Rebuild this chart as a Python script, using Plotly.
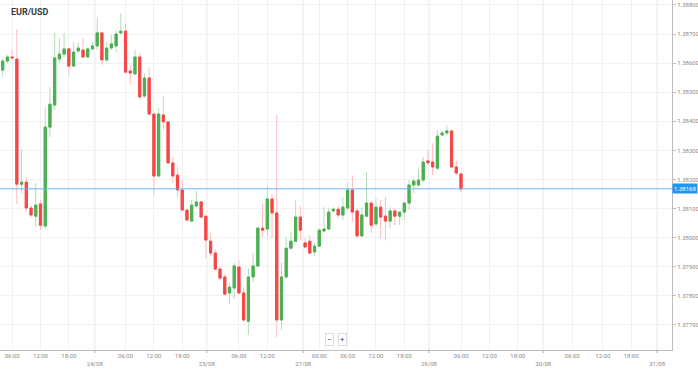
import plotly.graph_objects as go

# ---- data (hourly candles, EUR/USD) ----
open_ = [1.38576, 1.38607, 1.38621, 1.38614, 1.38184, 1.38191, 1.38102, 1.38074, 1.38116, 1.38040,
         1.38380, 1.38456, 1.38614, 1.38631, 1.38649, 1.38590, 1.38642, 1.38645, 1.38621, 1.38649,
         1.38659, 1.38704, 1.38611, 1.38652, 1.38659, 1.38704, 1.38710, 1.38573, 1.38563, 1.38621,
         1.38487, 1.38549, 1.38425, 1.38212, 1.38422, 1.38398, 1.38257, 1.38215, 1.38164, 1.38095,
         1.38057, 1.38109, 1.38123, 1.38074, 1.37988, 1.37947, 1.37892, 1.37865, 1.37810, 1.37827,
         1.37899, 1.37810, 1.37713, 1.37865, 1.37903, 1.38033, 1.38030, 1.38133, 1.38085, 1.37717,
         1.37865, 1.37964, 1.37988, 1.38071, 1.37982, 1.37988, 1.37951, 1.37971, 1.38023, 1.38030,
         1.38092, 1.38098, 1.38078, 1.38102, 1.38164, 1.38092, 1.38006, 1.38074, 1.38119, 1.38047,
         1.38105, 1.38074, 1.38057, 1.38092, 1.38074, 1.38088, 1.38119, 1.38181, 1.38181, 1.38198,
         1.38264, 1.38260, 1.38239, 1.38353, 1.38360, 1.38367, 1.38243, 1.38219]
high = [1.38618, 1.38628, 1.38645, 1.38717, 1.38305, 1.38208, 1.38112, 1.38188, 1.38129, 1.38449,
        1.38518, 1.38704, 1.38686, 1.38704, 1.38655, 1.38673, 1.38669, 1.38686, 1.38655, 1.38673,
        1.38759, 1.38707, 1.38673, 1.38697, 1.38714, 1.38772, 1.38738, 1.38594, 1.38649, 1.38635,
        1.38566, 1.38587, 1.38429, 1.38446, 1.38487, 1.38398, 1.38277, 1.38243, 1.38198, 1.38095,
        1.38129, 1.38160, 1.38126, 1.38074, 1.38016, 1.37958, 1.37899, 1.37878, 1.37844, 1.37913,
        1.37923, 1.37830, 1.37896, 1.37947, 1.38037, 1.38116, 1.38178, 1.38150, 1.38422, 1.37913,
        1.38002, 1.38019, 1.38129, 1.38109, 1.37999, 1.38009, 1.37982, 1.38033, 1.38105, 1.38102,
        1.38105, 1.38109, 1.38140, 1.38191, 1.38212, 1.38105, 1.38105, 1.38226, 1.38129, 1.38136,
        1.38129, 1.38140, 1.38105, 1.38102, 1.38088, 1.38123, 1.38198, 1.38205, 1.38236, 1.38277,
        1.38301, 1.38325, 1.38370, 1.38367, 1.38387, 1.38370, 1.38264, 1.38222]
low = [1.38552, 1.38600, 1.38614, 1.38116, 1.38153, 1.38088, 1.38071, 1.38037, 1.38026, 1.38033,
       1.38346, 1.38439, 1.38600, 1.38621, 1.38559, 1.38587, 1.38635, 1.38621, 1.38621, 1.38645,
       1.38645, 1.38594, 1.38604, 1.38645, 1.38638, 1.38697, 1.38566, 1.38525, 1.38559, 1.38473,
       1.38480, 1.38422, 1.38147, 1.38208, 1.38370, 1.38257, 1.38188, 1.38140, 1.38092, 1.38054,
       1.38054, 1.38105, 1.38071, 1.37930, 1.37937, 1.37889, 1.37854, 1.37803, 1.37772, 1.37789,
       1.37806, 1.37713, 1.37665, 1.37848, 1.37899, 1.38002, 1.38006, 1.37999, 1.37658, 1.37683,
       1.37861, 1.37958, 1.37985, 1.37992, 1.37964, 1.37947, 1.37937, 1.37968, 1.38019, 1.38026,
       1.38088, 1.38068, 1.38061, 1.38095, 1.38054, 1.37999, 1.38002, 1.38071, 1.38016, 1.38043,
       1.37999, 1.37992, 1.38033, 1.38043, 1.38043, 1.38061, 1.38095, 1.38153, 1.38174, 1.38191,
       1.38250, 1.38215, 1.38233, 1.38349, 1.38353, 1.38243, 1.38215, 1.38157]
close = [1.38607, 1.38621, 1.38618, 1.38184, 1.38191, 1.38102, 1.38078, 1.38112, 1.38043, 1.38380,
         1.38459, 1.38618, 1.38631, 1.38649, 1.38590, 1.38638, 1.38652, 1.38621, 1.38649, 1.38659,
         1.38704, 1.38611, 1.38652, 1.38666, 1.38700, 1.38710, 1.38569, 1.38566, 1.38621, 1.38484,
         1.38549, 1.38425, 1.38212, 1.38425, 1.38398, 1.38257, 1.38212, 1.38164, 1.38095, 1.38061,
         1.38112, 1.38123, 1.38071, 1.37992, 1.37947, 1.37892, 1.37861, 1.37806, 1.37830, 1.37903,
         1.37810, 1.37717, 1.37865, 1.37903, 1.38033, 1.38026, 1.38133, 1.38085, 1.37717, 1.37865,
         1.37964, 1.37988, 1.38071, 1.38026, 1.37968, 1.37947, 1.37971, 1.38026, 1.38030, 1.38088,
         1.38098, 1.38078, 1.38105, 1.38164, 1.38088, 1.38006, 1.38078, 1.38119, 1.38043, 1.38105,
         1.38071, 1.38057, 1.38092, 1.38074, 1.38088, 1.38119, 1.38181, 1.38195, 1.38198, 1.38260,
         1.38257, 1.38243, 1.38349, 1.38360, 1.38367, 1.38243, 1.38222, 1.38168]
candle_index = list(range(len(open_)))

hour_pos = [2, 8, 14, 26, 32, 38, 50, 56, 67, 73, 79, 85, 97, 103, 109, 120.5, 127, 133]
hour_txt = ["06:00", "12:00", "18:00", "06:00", "12:00", "18:00", "06:00", "12:00", "00:00",
            "06:00", "12:00", "18:00", "06:00", "12:00", "18:00", "06:00", "12:00", "18:00"]
day_pos = [19.5, 43.2, 63.6, 90.2, 114.4, 138.5]
day_txt = ["24/08", "25/08", "27/08", "29/08", "30/08", "31/08"]
y_ticks = [1.377, 1.378, 1.379, 1.380, 1.381, 1.382, 1.383, 1.384, 1.385, 1.386, 1.387, 1.388]

GREEN = "#4caf50"
RED = "#f44747"
GREEN_W = "#b5dfb6"
RED_W = "#ffbcbc"

body_hi = [max(o, c) for o, c in zip(open_, close)]
body_lo = [min(o, c) for o, c in zip(open_, close)]

fig = go.Figure()
# wicks (light)
fig.add_trace(go.Candlestick(
    x=candle_index, open=open_, high=high, low=low, close=close,
    increasing=dict(line=dict(color=GREEN_W, width=1), fillcolor=GREEN_W),
    decreasing=dict(line=dict(color=RED_W, width=1), fillcolor=RED_W),
    hoverinfo="skip", showlegend=False))
# bodies (solid)
fig.add_trace(go.Candlestick(
    x=candle_index, open=open_, high=body_hi, low=body_lo, close=close,
    increasing=dict(line=dict(color=GREEN, width=1), fillcolor=GREEN),
    decreasing=dict(line=dict(color=RED, width=1), fillcolor=RED),
    showlegend=False))

tickvals = hour_pos + day_pos
ticktext = hour_txt + ["<br>" + d for d in day_txt]

last = close[-1]

shapes = []
for d in day_pos:
    shapes.append(dict(type="line", xref="x", yref="paper", x0=d, x1=d, y0=0, y1=1,
                       line=dict(color="#e4e4e4", width=1), layer="below"))
    shapes.append(dict(type="line", xref="x", yref="paper", x0=d, x1=d, y0=0, y1=-0.018,
                       line=dict(color="#aaaaaa", width=1, dash="dot")))
shapes.append(dict(type="line", xref="paper", yref="y", x0=0, x1=1, y0=last, y1=last,
                   line=dict(color="#6db3ec", width=1)))

fig.update_layout(
    width=698, height=369,
    margin=dict(l=0, r=26, t=0, b=19, autoexpand=False),
    paper_bgcolor="white", plot_bgcolor="white",
    font=dict(family="Roboto, Arial, sans-serif", size=6, color="#8a8a8a"),
    boxgap=0.33,
    xaxis=dict(
        range=[-0.57, 141.65], rangeslider=dict(visible=False),
        tickmode="array", tickvals=tickvals, ticktext=ticktext,
        showgrid=True, gridcolor="#f1f1f1", gridwidth=1,
        showline=True, linecolor="#bdbdbd", linewidth=1,
        ticks="", zeroline=False, fixedrange=True,
        tickfont=dict(size=6, color="#8a8a8a"),
    ),
    yaxis=dict(
        side="right", range=[1.37614, 1.38817],
        tickmode="array", tickvals=y_ticks, tickformat=".5f",
        showgrid=True, gridcolor="#f1f1f1", gridwidth=1,
        showline=True, linecolor="#bdbdbd", linewidth=1,
        ticks="outside", ticklen=3, tickcolor="#bdbdbd",
        zeroline=False, fixedrange=True,
        tickfont=dict(size=6, color="#8a8a8a"),
    ),
    shapes=shapes,
    annotations=[
        dict(text="<b>EUR/USD</b>", xref="paper", yref="paper", x=0.014, y=0.965,
             xanchor="left", yanchor="middle", showarrow=False,
             font=dict(size=9, color="#3a3a3a", family="Roboto, Arial, sans-serif")),
        dict(text=f"{last:.5f}", xref="paper", yref="y", x=1.0, y=last,
             xanchor="left", yanchor="middle", showarrow=False,
             bgcolor="#2196f3", borderpad=1,
             font=dict(size=6, color="white")),
        dict(text="−", xref="paper", yref="paper", x=0.491, y=0.03,
             xanchor="center", yanchor="middle", showarrow=False,
             bgcolor="white", bordercolor="#dddddd", borderwidth=1, borderpad=1,
             font=dict(size=8, color="#444444")),
        dict(text="+", xref="paper", yref="paper", x=0.509, y=0.03,
             xanchor="center", yanchor="middle", showarrow=False,
             bgcolor="white", bordercolor="#dddddd", borderwidth=1, borderpad=1,
             font=dict(size=8, color="#444444")),
    ],
)

fig.write_html("out.html", config={"displayModeBar": False},
               post_script="document.body.style.margin='0';document.body.style.overflow='hidden';")
